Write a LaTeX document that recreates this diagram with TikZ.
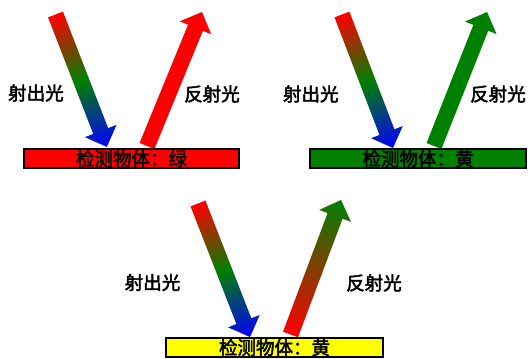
\documentclass[tikz,border=0pt]{standalone}
\usepackage{fontspec}
\newfontfamily\cjk[FakeBold=2.5]{Noto Sans CJK SC}
\definecolor{dgreen}{RGB}{0,128,0}
\definecolor{pyellow}{RGB}{255,255,0}
\newcommand\fatarrow[4]{%
  \begin{scope}[transform canvas={shift={#1}, rotate=#2}]
    \shade[#4] (0,-8) -- ({#3-17},-8) -- ({#3-17},-17) -- (#3,0) -- ({#3-17},17) -- ({#3-17},8) -- (0,8) -- cycle;
  \end{scope}}
\begin{document}
\begin{tikzpicture}[x=1pt,y=-1pt,
  objbox/.style={draw=black, line width=2pt, inner sep=0pt, minimum height=19pt, font=\cjk\fontsize{18.5}{18.5}\selectfont, text=black},
  lbl/.style={inner sep=0pt, font=\cjk\fontsize{18.5}{18.5}\selectfont, text=black},
  rgb/.style={left color=red, right color=blue, middle color=dgreen},
  solidred/.style={left color=red, right color=red},
  solidgreen/.style={left color=dgreen, right color=dgreen},
  redgreen/.style={left color=red, right color=dgreen}]
\useasboundingbox (0,0) rectangle (528,359);
% panel 1
\fatarrow{(55.5,14.5)}{-68.8}{142}{rgb}
\fatarrow{(147,146)}{67.7}{144.8}{solidred}
\node[objbox, fill=red, minimum width=215pt] (box1) at (131.5,158.5) {检测物体：绿};
\node[lbl] (in1) at (36,93) {射出光};
\node[lbl] (re1) at (212,94) {反射光};
% panel 2
\fatarrow{(342,14.5)}{-69.1}{142.9}{rgb}
\fatarrow{(434,146)}{68.4}{144.1}{solidgreen}
\node[objbox, fill=dgreen, minimum width=216pt] (box2) at (418,158.5) {检测物体：黄};
\node[lbl] (in2) at (310.8,94) {射出光};
\node[lbl] (re2) at (498,94) {反射光};
% panel 3
\fatarrow{(198,203.5)}{-68.7}{143.3}{rgb}
\fatarrow{(290.5,334.5)}{69.4}{143.7}{redgreen}
\node[objbox, fill=pyellow, minimum width=217pt] (box3) at (274.5,347.5) {检测物体：黄};
\node[lbl] (in3) at (152.5,282.5) {射出光};
\node[lbl] (re3) at (374,283) {反射光};
\end{tikzpicture}
\end{document}
